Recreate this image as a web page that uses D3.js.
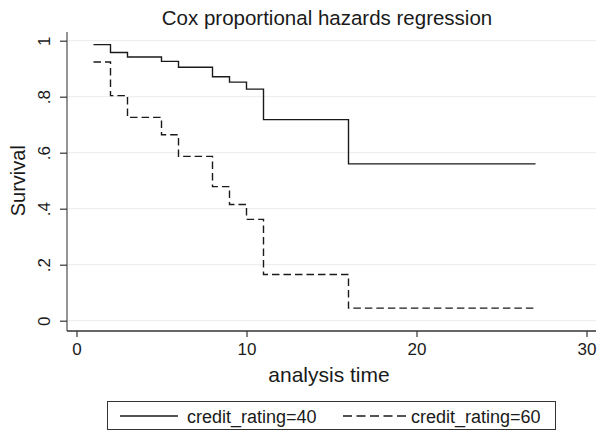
<!DOCTYPE html>
<html>
<head>
<meta charset="utf-8">
<script src="https://d3js.org/d3.v7.min.js"></script>
<style>
  body { margin: 0; background: #fff; }
  text { font-family: "Liberation Sans", Arial, sans-serif; fill: #1a1a1a; }
</style>
</head>
<body>
<script>
// step times (analysis time) for both groups
const times = [1, 2, 3, 5, 6, 8, 9, 10, 11, 16, 27];
// survival estimates
const survival40 = [0.986, 0.958, 0.942, 0.926, 0.905, 0.871, 0.852, 0.827, 0.718, 0.56, 0.56];
const survival60 = [0.924, 0.804, 0.726, 0.664, 0.587, 0.479, 0.415, 0.362, 0.165, 0.045, 0.045];
const seriesNames = ["credit_rating=40", "credit_rating=60"];
const xTicks = [0, 10, 20, 30];
const yTicks = [0, 0.2, 0.4, 0.6, 0.8, 1];
const yTickLabels = ["0", ".2", ".4", ".6", ".8", "1"];

const w = 601;
const h = 431;
const svg = d3.select("body")
    .append("svg")
    .attr("width", w)
    .attr("height", h);

// plot region (window.top is taken, so pTop etc)
const pLeft = 67, pRight = 596, pTop = 32, pBottom = 331;

const xScale = d3.scaleLinear()
    .domain([0, 30])
    .range([76.5, 586.5]);
const yScale = d3.scaleLinear()
    .domain([0, 1])
    .range([320.7, 40.7]);

// light grid lines
svg.selectAll("line.grid")
    .data(yTicks)
    .enter()
    .append("line")
    .attr("class", "grid")
    .attr("x1", pLeft)
    .attr("x2", pRight)
    .attr("y1", d => yScale(d))
    .attr("y2", d => yScale(d))
    .attr("stroke", "#ececec")
    .attr("stroke-width", 1);

// y axis, labels rotated like stata does
const yAxis = svg.append("g")
    .attr("transform", `translate(${pLeft},0)`)
    .call(d3.axisLeft(yScale).tickValues(yTicks).tickSize(7).tickFormat((d, i) => yTickLabels[i]));
yAxis.select(".domain").attr("d", `M0,${pTop}V${pBottom}`).attr("stroke", "#7a7a7a").attr("stroke-width", 1.6);
yAxis.selectAll(".tick line").attr("stroke", "#333").attr("stroke-width", 1.2);
yAxis.selectAll(".tick text")
    .attr("x", null).attr("dy", null)
    .attr("transform", "translate(-17,0) rotate(-90)")
    .attr("text-anchor", "middle")
    .style("font-size", "17px");

// x axis
const xAxis = svg.append("g")
    .attr("transform", `translate(0,${pBottom})`)
    .call(d3.axisBottom(xScale).tickValues(xTicks).tickSize(6).tickFormat(d3.format("d")));
xAxis.select(".domain").attr("d", `M${pLeft},0H${pRight}`).attr("stroke", "#333").attr("stroke-width", 1.4);
xAxis.selectAll(".tick line").attr("stroke", "#333").attr("stroke-width", 1.2);
xAxis.selectAll(".tick text")
    .attr("y", 24).attr("dy", null)
    .style("font-size", "17px");

// both axis have text size set on the group too
svg.selectAll("g").attr("font-family", null).attr("font-size", null);

// step lines
const line = d3.line()
    .x((d, i) => xScale(times[i]))
    .y(d => yScale(d))
    .curve(d3.curveStepAfter);

svg.append("path")
    .attr("d", line(survival40))
    .attr("fill", "none")
    .attr("stroke", "#1a1a1a")
    .attr("stroke-width", 1.4);

svg.append("path")
    .attr("d", line(survival60))
    .attr("fill", "none")
    .attr("stroke", "#1a1a1a")
    .attr("stroke-width", 1.4)
    .attr("stroke-dasharray", "7.5,4");

// titles
svg.append("text")
    .attr("x", 327)
    .attr("y", 25)
    .attr("text-anchor", "middle")
    .style("font-size", "20.5px")
    .text("Cox proportional hazards regression");

svg.append("text")
    .attr("x", 329)
    .attr("y", 382)
    .attr("text-anchor", "middle")
    .style("font-size", "21px")
    .text("analysis time");

svg.append("text")
    .attr("transform", `translate(25,${(yScale(0) + yScale(1)) / 2}) rotate(-90)`)
    .attr("text-anchor", "middle")
    .style("font-size", "20px")
    .text("Survival");

// legend box
svg.append("rect")
    .attr("x", 107.5)
    .attr("y", 401.5)
    .attr("width", 448)
    .attr("height", 28)
    .attr("fill", "#fff")
    .attr("stroke", "#333")
    .attr("stroke-width", 1);

const legendX = [120, 343];
const legend = svg.selectAll("g.legend")
    .data(seriesNames)
    .enter()
    .append("g")
    .attr("class", "legend")
    .attr("transform", (d, i) => `translate(${legendX[i]},416)`);
legend.append("line")
    .attr("x1", 0)
    .attr("x2", (d, i) => i === 1 ? 63 : 58)
    .attr("stroke", "#1a1a1a")
    .attr("stroke-width", 1.4)
    .attr("stroke-dasharray", (d, i) => i === 1 ? "9,4.5" : null);
legend.append("text")
    .attr("x", (d, i) => i === 1 ? 68 : 67)
    .attr("y", 6.5)
    .style("font-size", "18px")
    .text(d => d);
</script>
</body>
</html>
